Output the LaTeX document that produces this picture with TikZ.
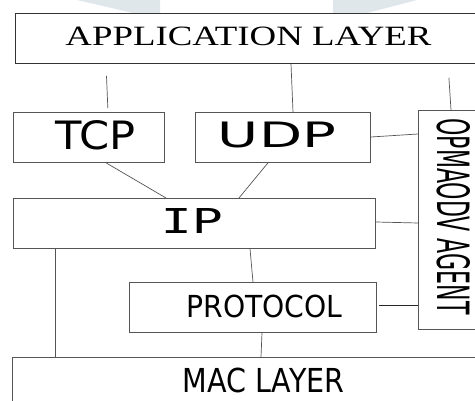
\documentclass[tikz,border=0pt]{standalone}
\usepackage{fontspec}
\setmainfont{Liberation Serif}
\newfontfamily\dvs{DejaVu Sans}
\newfontfamily\dvm{DejaVu Sans Mono}
\usetikzlibrary{calc}
\definecolor{bandtint}{HTML}{DFE7EB}
\definecolor{edge}{HTML}{555555}
\tikzset{
  layerbox/.style={draw=edge, line width=0.8pt, fill=white, inner sep=0pt, anchor=north west},
  caption/.style={inner sep=0pt, anchor=center},
  link/.style={draw=edge, line width=0.7pt},
}
% fit a caption into a given ink width and cap height
\newcommand{\fitlabel}[3]{\resizebox{#1}{#2}{#3}}
\begin{document}
\begin{tikzpicture}[x=1pt, y=-1pt]
  \useasboundingbox (0,0) rectangle (475,401);
  \clip (0,0) rectangle (475,401);
  \fill[white] (0,0) rectangle (475,401);

  % faint backdrop bands at the top edge
  \fill[bandtint] (77,0) -- (160,0) -- (160,13) -- (133,13) -- cycle;
  \fill[bandtint] (333,0) -- (417,0) -- (367,13) -- (333,13) -- cycle;

  % layer boxes
  \node[layerbox, draw=black!80, minimum width=470pt, minimum height=50pt] (app) at (15,13) {};
  \node[layerbox, minimum width=151pt, minimum height=50pt] (tcp) at (13,112) {};
  \node[layerbox, minimum width=175pt, minimum height=50pt] (udp) at (195,112) {};
  \node[layerbox, minimum width=67pt, minimum height=219pt] (agent) at (418,110) {};
  \node[layerbox, minimum width=362pt, minimum height=50pt] (ip) at (13,198) {};
  \node[layerbox, minimum width=247pt, minimum height=50pt] (proto) at (129,282) {};
  \node[layerbox, minimum width=473pt, minimum height=60pt] (mac) at (12,357) {};

  % captions
  \node[caption] (appt) at (248.5,36) {\fitlabel{366pt}{18.5pt}{APPLICATION LAYER}};
  \node[caption] (tcpt) at (96,135) {\fitlabel{80pt}{29pt}{\dvs TCP}};
  \node[caption] (udpt) at (277,134.5) {\fitlabel{118pt}{25.5pt}{\dvs UDP}};
  \node[caption] (ipt) at (192,220.5) {\fitlabel{62pt}{25pt}{\dvm IP}};
  \node[caption] (protot) at (264.5,306) {\fitlabel{156pt}{22.5pt}{\dvs PROTOCOL}};
  \node[caption] (mact) at (263.5,380) {\fitlabel{162pt}{24.5pt}{\dvs MAC LAYER}};
  \node[caption, rotate=-90] (agentt) at (453.5,216.5) {\fitlabel{196pt}{33pt}{\dvs OPMAODV AGENT}};

  % connectors
  \draw[link, shorten <=12pt, shorten >=4pt] ($(app.south west)+(91,0)$) -- ($(tcp.north west)+(95,0)$);
  \draw[link] ($(app.south west)+(276,0)$) -- ($(udp.north west)+(98,0)$);
  \draw[link, shorten <=14pt] ($(app.south west)+(433,0)$) -- ($(agent.north west)+(33,0)$);
  \draw[link] ($(tcp.south west)+(93,0)$) -- ($(ip.north west)+(153,0)$);
  \draw[link] ($(udp.south west)+(73,0)$) -- ($(ip.north west)+(226,0)$);
  \draw[link] ($(udp.north east)+(0,25)$) -- ($(agent.north west)+(0,24)$);
  \draw[link] ($(ip.north east)+(0,24)$) -- ($(agent.north west)+(0,113)$);
  \draw[link] ($(ip.south west)+(42,0)$) -- ($(mac.north west)+(43,0)$);
  \draw[link] ($(ip.south west)+(237,0)$) -- ($(proto.north west)+(124,0)$);
  \draw[link, draw=black!85, line width=1pt, shorten <=2pt] ($(proto.north east)+(0,24)$) -- ($(agent.north west)+(0,196)$);
  \draw[link] ($(proto.south west)+(133,0)$) -- ($(mac.north west)+(249,0)$);
\end{tikzpicture}
\end{document}
